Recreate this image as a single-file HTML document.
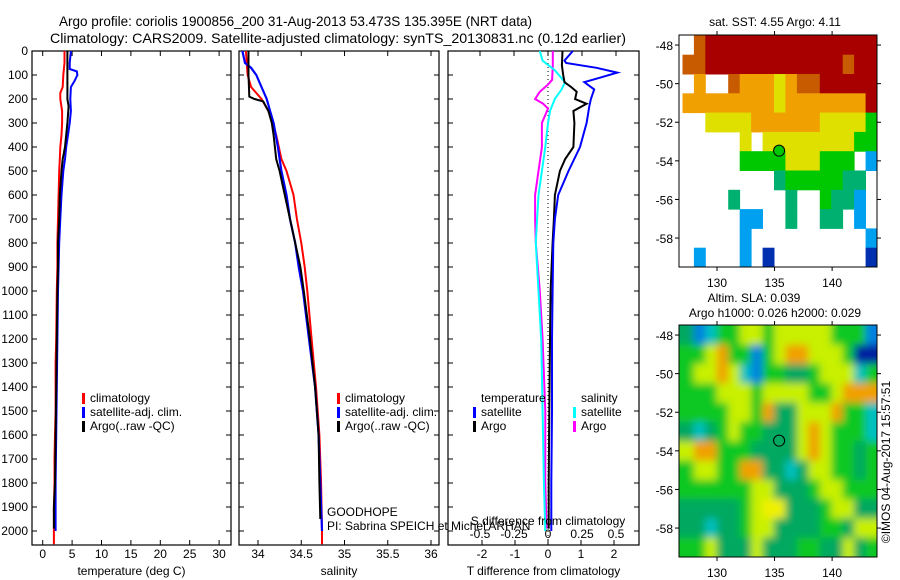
<!DOCTYPE html>
<html><head><meta charset="utf-8"><style>
html,body{margin:0;padding:0;background:#fff;}
svg{display:block;font-family:"Liberation Sans",sans-serif;}
text{font-size:12px;fill:#000;}
</style></head><body>
<svg id="fig" width="900" height="580" viewBox="0 0 900 580" xmlns="http://www.w3.org/2000/svg">
<defs>
<filter id="blur" filterUnits="userSpaceOnUse" x="679" y="325" width="198" height="232"><feGaussianBlur stdDeviation="4"/></filter>
<clipPath id="clipSla"><rect x="679" y="325" width="198" height="232"/></clipPath>
</defs>
<text x="59" y="26" textLength="473" lengthAdjust="spacingAndGlyphs" style="font-size:14px">Argo profile: coriolis 1900856_200 31-Aug-2013 53.473S 135.395E (NRT data)</text>
<text x="50" y="43" textLength="576" lengthAdjust="spacingAndGlyphs" style="font-size:14px">Climatology: CARS2009. Satellite-adjusted climatology: synTS_20130831.nc (0.12d earlier)</text>
<g id="plots"></g>
</svg>
<script>
// ---- depth axis ----
const depthTicks = [0,100,200,300,400,500,600,700,800,900,1000,1100,1200,1300,1400,1500,1600,1700,1800,1900,2000];
// ---- temperature panel ----
const tempTicks = [0,5,10,15,20,25,30];
const tClimDepth = [0,50,100,150,175,200,250,300,350,400,450,500,600,700,800,900,1000,1200,1300,1500,1600,1700,1800,1900,2000,2055];
const tClimVal   = [3.7,3.7,3.5,3.4,3.0,3.0,3.3,3.3,3.2,3.0,2.9,2.8,2.7,2.6,2.5,2.5,2.4,2.3,2.2,2.2,2.1,2.0,2.0,1.9,1.9,1.9];
const tSatDepth = [0,50,75,85,100,125,150,200,250,300,350,400,450,500,600,700,800,900,1000,1200,1400,1600,1800,2000];
const tSatVal   = [4.8,4.6,4.6,5.8,5.9,5.4,4.8,4.7,4.8,4.6,4.3,4.0,3.8,3.5,3.2,3.0,2.8,2.7,2.6,2.5,2.4,2.3,2.2,2.2];
const tArgoDepth = [0,50,100,200,230,300,400,450,500,600,700,800,900,1000,1200,1400,1600,1800,1900,1990];
const tArgoVal   = [4.2,4.2,4.2,4.2,4.4,4.2,3.8,3.4,3.2,2.9,2.8,2.6,2.6,2.5,2.4,2.3,2.2,2.1,1.9,1.9];
// ---- salinity panel ----
const salTicks = [34,34.5,35,35.5,36];
const sClimDepth = [0,100,150,200,250,300,350,400,450,500,600,700,800,900,1000,1200,1400,1600,1800,2000,2055];
const sClimVal   = [33.86,33.88,33.92,34.04,34.12,34.17,34.21,34.24,34.27,34.33,34.41,34.45,34.50,34.54,34.57,34.62,34.67,34.71,34.73,34.74,34.74];
const sSatDepth = [0,50,70,100,150,200,250,300,400,500,600,700,800,900,1000,1200,1400,1600,1800,2000];
const sSatVal   = [33.82,33.85,33.92,33.98,34.04,34.10,34.14,34.18,34.23,34.27,34.33,34.37,34.43,34.47,34.52,34.59,34.66,34.70,34.72,34.74];
const sArgoDepth = [0,100,190,200,210,250,300,350,450,500,600,700,800,900,1000,1200,1400,1600,1800,1950];
const sArgoVal   = [33.89,33.89,33.90,33.96,34.06,34.12,34.16,34.18,34.21,34.25,34.31,34.37,34.43,34.49,34.53,34.60,34.66,34.70,34.71,34.72];
// ---- difference panel ----
const tDiffTicks = [-2,-1,0,1,2];
const sDiffTicks = [-0.5,-0.25,0,0.25,0.5];
const sDiffLabels = ["-0.5","-0.25","0","0.25","0.5"];
const dTSatDepth = [0,40,50,70,90,110,130,160,200,230,300,400,500,600,700,800,1000,1200,1500,1800,2000];
const dTSatVal   = [0.75,0.5,0.55,1.47,2.1,1.6,1.1,1.4,1.3,1.25,1.17,0.97,0.62,0.31,0.21,0.16,0.14,0.12,0.12,0.1,0.1];
const dTArgoDepth = [0,60,100,130,150,170,200,220,250,300,400,450,500,600,700,800,1000,1200,1500,1800,1990];
const dTArgoVal   = [0.44,0.42,0.46,0.5,0.7,0.87,0.82,1.17,0.77,0.8,0.77,0.52,0.36,0.21,0.18,0.14,0.08,0.06,0.04,0.02,0.02];
const dSSatDepth = [0,40,80,130,160,200,250,300,400,500,600,700,800,1000,1200,1500,1800,2000];
const dSSatVal   = [-0.06,-0.04,0.05,0.125,0.1,0.05,0.015,0.0,-0.02,-0.045,-0.07,-0.08,-0.09,-0.07,-0.05,-0.04,-0.03,-0.02];
const dSArgoDepth = [0,60,120,140,170,200,220,240,300,400,500,600,700,800,1000,1200,1500,1800,1990];
const dSArgoVal   = [0.035,0.035,0.03,0.0,-0.06,-0.095,-0.035,0.0,-0.045,-0.045,-0.07,-0.095,-0.095,-0.09,-0.06,-0.04,-0.02,-0.02,-0.01];
// ---- maps ----
const lonTicks = [130,135,140];
const latTicks = [-48,-50,-52,-54,-56,-58];
const floatLon = 135.395;
const floatLat = -53.473;
const sstRows = [
".rRRRRRRRRRRRRRRR",
"rrRRRRRRRRRRRRrRR",
".o..roooyorrRRRRR",
"ooooooooyoooooooR",
"..yyyyooooooyyyyg",
".....y.yyyyyyyygg",
".....ggggyyyggg.c",
"........tgggggtt.",
"....t....t..gttc.",
".....cc..t..tt.c.",
".....c..........c",
".c...c.b........b"];
const slaRows = [
"Gbcggyygyyyyygggb",
"ggyoggbgyooyyygBB",
"gyyoycbggGGgyyycg",
"gggyyygyyyyggyooo",
"ggggyygoGGyyyoggc",
"GcGgyggGGGyoygggc",
"yoogggGGGGyoyggGg",
"gyyggooGGcGyyggGg",
"ggggggyyGGGgyyggg",
"GGGGGgyYYGGGgyyGG",
"GGcGGgyyGGGGggGyy",
"ggyGGGyGGGggGGyGg"];
const sstColors = {R:"#a80000",r:"#c85a00",o:"#f0a000",y:"#e0e000",g:"#00c800",t:"#00b070",c:"#00a0f0",b:"#0030b0"};
const slaColors = {g:"#10c820",G:"#00a860",y:"#c8f000",Y:"#f0f000",o:"#f0a000",c:"#00c0c0",b:"#0080e0",B:"#0020a0"};

const NS="http://www.w3.org/2000/svg";
const root=document.getElementById('plots');
function mk(tag,attrs,parent){const e=document.createElementNS(NS,tag);for(const k in attrs)e.setAttribute(k,attrs[k]);(parent||root).appendChild(e);return e;}
function txt(x,y,s,anchor,parent,size){const t=mk('text',{x:x,y:y,'text-anchor':anchor||'start'},parent);if(size)t.style.fontSize=size+'px';t.textContent=s;return t;}

const PT=51, PB=545;
function yD(d){return PT + d*0.24;}

function panel(name,x0,x1,xs,ticks,labels,xlabel,topTicks){
  const g=mk('g',{});
  
  
  const r=mk('rect',{x:x0,y:PT,width:x1-x0,height:PB-PT,fill:'none',stroke:'#000','stroke-width':1.2},g);
  
  
  depthTicks.forEach(d=>{
    mk('line',{x1:x0,x2:x0+5,y1:yD(d),y2:yD(d),stroke:'#000'},g);
    mk('line',{x1:x1,x2:x1-5,y1:yD(d),y2:yD(d),stroke:'#000'},g);
  });
  ticks.forEach((v,i)=>{
    const x=xs(v);
    mk('line',{x1:x,x2:x,y1:PB,y2:PB-5,stroke:'#000'},g);
    if(topTicks) mk('line',{x1:x,x2:x,y1:PT,y2:PT+5,stroke:'#000'},g);
    const t=txt(x,558,labels[i],'middle',g);
    
    
  });
  const xl=txt((x0+x1)/2,575,xlabel,'middle',g);
  
  
  return g;
}
function series(g,name,depths,vals,xs,color,w){
  const pts=depths.map((d,i)=>xs(vals[i]).toFixed(1)+','+yD(d).toFixed(1)).join(' ');
  const p=mk('polyline',{points:pts,fill:'none',stroke:color,'stroke-width':w||2,'stroke-linejoin':'miter'},g);
  
  
}
function legendEntry(g,name,x,y,color,label){
  const b=mk('rect',{x:x,y:y-9,width:3,height:11,fill:color},g);
  
  
  const t=txt(x+8,y,label,'start',g);
  
  
}

depthTicks.forEach(d=>{
  const t=txt(28,yD(d)+4,String(d),'end');
  
  
});

const xT=v=>42.7+v*5.88;
const g1=panel('temperature-panel',32,231,xT,tempTicks,tempTicks.map(String),'temperature (deg C)',true);
series(g1,'temp-climatology-line',tClimDepth,tClimVal,xT,'#f00',2);
series(g1,'temp-satellite-line',tSatDepth,tSatVal,xT,'#00f',2);
series(g1,'temp-argo-line',tArgoDepth,tArgoVal,xT,'#000',2);
legendEntry(g1,'legend-climatology',82,402,'#f00','climatology');
legendEntry(g1,'legend-satellite-adj',82,416,'#00f','satellite-adj. clim.');
legendEntry(g1,'legend-argo',82,430,'#000','Argo(..raw -QC)');

const xS=v=>258+(v-34)*86.5;
const g2=panel('salinity-panel',239,439,xS,salTicks,salTicks.map(String),'salinity',true);
series(g2,'sal-climatology-line',sClimDepth,sClimVal,xS,'#f00',2);
series(g2,'sal-satellite-line',sSatDepth,sSatVal,xS,'#00f',2.2);
series(g2,'sal-argo-line',sArgoDepth,sArgoVal,xS,'#000',2);
legendEntry(g2,'legend-climatology-2',337,402,'#f00','climatology');
legendEntry(g2,'legend-satellite-adj-2',337,416,'#00f','satellite-adj. clim.');
legendEntry(g2,'legend-argo-2',337,430,'#000','Argo(..raw -QC)');

const xdT=v=>548+v*33;
const xdS=v=>548+v*136;
const g3=panel('difference-panel',448,639,xdT,tDiffTicks,tDiffTicks.map(String),'T difference from climatology',false);
sDiffTicks.forEach(v=>{mk('line',{x1:xdS(v),x2:xdS(v),y1:PT,y2:PT+5,stroke:'#000'},g3);});
const zl=mk('line',{x1:548,x2:548,y1:PT,y2:PB,stroke:'#000','stroke-dasharray':'1,3'},g3);


series(g3,'sdiff-argo-line',dSArgoDepth,dSArgoVal,xdS,'#f0f',2);
series(g3,'sdiff-satellite-line',dSSatDepth,dSSatVal,xdS,'#0ff',2);
series(g3,'tdiff-argo-line',dTArgoDepth,dTArgoVal,xdT,'#000',2);
series(g3,'tdiff-satellite-line',dTSatDepth,dTSatVal,xdT,'#00f',2);
const lt=txt(481,402,'temperature','start',g3);


const ls=txt(581,402,'salinity','start',g3);


legendEntry(g3,'legend-t-satellite',473,416,'#00f','satellite');
legendEntry(g3,'legend-t-argo',473,430,'#000','Argo');
legendEntry(g3,'legend-s-satellite',573,416,'#0ff','satellite');
legendEntry(g3,'legend-s-argo',573,430,'#f0f','Argo');
const sdt=txt(548,525,'S difference from climatology','middle',g3);


sDiffTicks.forEach((v,i)=>{
  const t=txt(xdS(v),538,sDiffLabels[i],'middle',g3);
  
  
});
const gh=txt(327,516,'GOODHOPE','start');


const pi=txt(327,530,'PI: Sabrina SPEICH et Michel ARHAN','start');



const MX0=679,MX1=877,LON0=126.7,LON1=143.9,LAT0=-47.48,LAT1=-59.5;
function mapPanel(name,top,rows,colors,blur,titleLines,filled){
  const H=232;
  const mx=v=>MX0+(v-LON0)/(LON1-LON0)*(MX1-MX0);
  const my=v=>top+(v-LAT0)/(LAT1-LAT0)*H;
  const g=mk('g',{});
  
  
  const outer=mk('g',blur?{'clip-path':'url(#clipSla)'}:{},g);
  const cg=mk('g',blur?{filter:'url(#blur)'}:{},outer);
  const nr=rows.length, nc=rows[0].length;
  const lonStart=127, latStart=-47.5;
  const cw=(LON1-lonStart)/nc, ch=(LAT1-latStart)/nr;
  if(blur){mk('rect',{x:MX0-10,y:top-10,width:MX1-MX0+20,height:H+20,fill:'#10c820'},cg);}
  rows.forEach((row,ri)=>{
    [...row].forEach((c,ci)=>{
      if(c==='.')return;
      let x=mx(lonStart+ci*cw), y=my(latStart+ri*ch);
      let x2=mx(lonStart+(ci+1)*cw), y2=my(latStart+(ri+1)*ch);
      if(blur){ if(ci===0) x=MX0-10; if(ci===nc-1) x2=MX1+10; if(ri===0) y=top-10; if(ri===nr-1) y2=top+H+10; }
      const cell=mk('rect',{x:x.toFixed(1),y:y.toFixed(1),width:(x2-x+0.5).toFixed(1),height:(y2-y+0.5).toFixed(1),fill:colors[c]},cg);
      
      
    });
  });
  const fr=mk('rect',{x:MX0,y:top,width:MX1-MX0,height:H,fill:'none',stroke:'#000','stroke-width':1},g);
  
  
  lonTicks.forEach(v=>{
    mk('line',{x1:mx(v),x2:mx(v),y1:top,y2:top-4,stroke:'#000'},g);
    mk('line',{x1:mx(v),x2:mx(v),y1:top+H,y2:top+H+4,stroke:'#000'},g);
    const t=txt(mx(v),top+H+20,String(v),'middle',g);
    
    
  });
  latTicks.forEach(v=>{
    mk('line',{x1:MX0,x2:MX0-4,y1:my(v),y2:my(v),stroke:'#000'},g);
    mk('line',{x1:MX1,x2:MX1+4,y1:my(v),y2:my(v),stroke:'#000'},g);
    const t=txt(MX0-6,my(v)+5,String(v),'end',g);
    
    
  });
  const c=mk('circle',{cx:mx(floatLon),cy:my(floatLat),r:5.5,fill:filled?'#00c800':'none',stroke:'#000','stroke-width':1},g);
  
  
  titleLines.forEach((s,i)=>{
    const t=txt(s[1],s[2],s[0],'middle',g);
    
    
  });
}
mapPanel('sst-map',35,sstRows,sstColors,false,[['sat. SST: 4.55 Argo: 4.11',775,26]],true);
mapPanel('sla-map',325,slaRows,slaColors,true,[['Altim. SLA: 0.039',754,302],['Argo h1000: 0.026 h2000: 0.029',775,317]],false);
const cr=txt(0,0,'©IMOS 04-Aug-2017 15:57:51','middle');
cr.setAttribute('transform','translate(890,462) rotate(-90)');


</script>
</body></html>
